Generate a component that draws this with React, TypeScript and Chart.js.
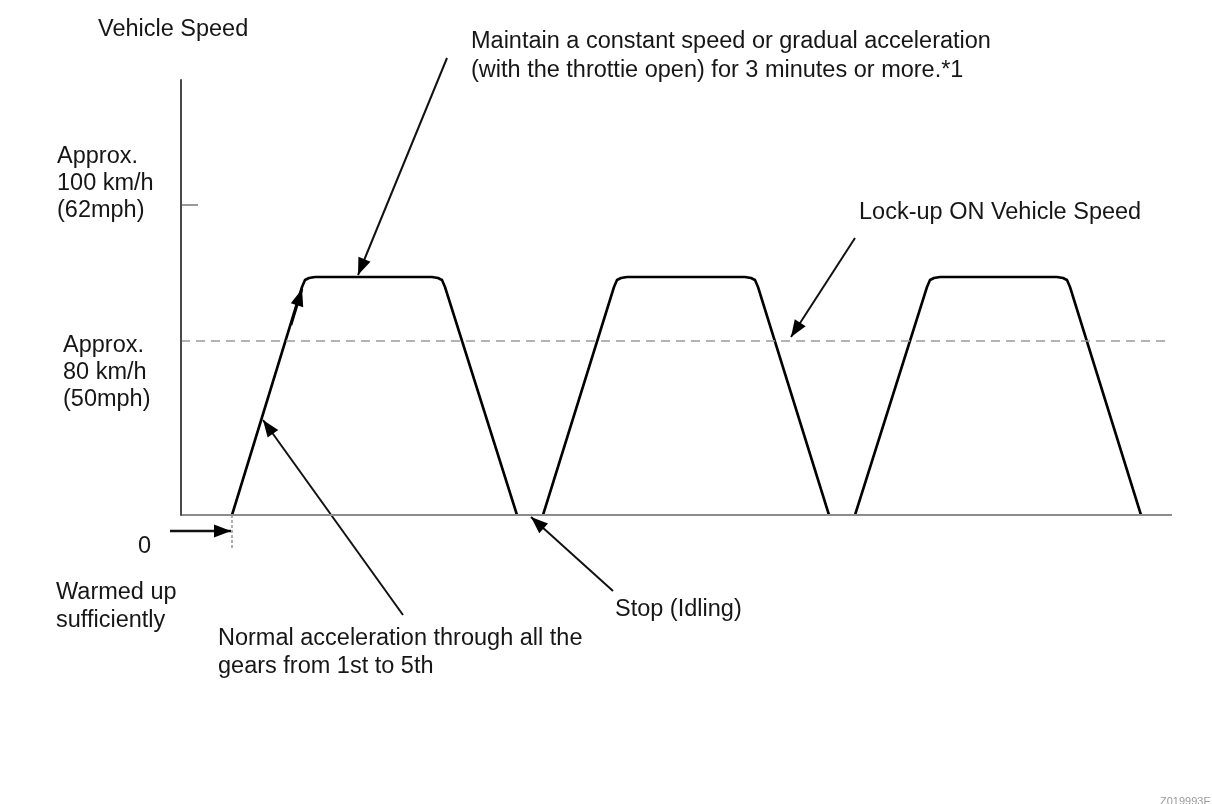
import React, { useEffect, useRef } from "react";
import { Chart, registerables } from "chart.js";

Chart.register(...registerables);

// Diagram units: x = time position, y = height above the zero-speed baseline
const trip1X = [232, 302, 305, 309, 315, 432, 438, 442, 445, 517];
const trip1Y = [0, 228, 235, 237, 238, 238, 237, 235, 228, 0];
const trip2X = [543, 614, 617, 621, 627, 745, 751, 755, 758, 829];
const trip2Y = [0, 228, 235, 237, 238, 238, 237, 235, 228, 0];
const trip3X = [855, 927, 930, 934, 940, 1057, 1063, 1067, 1070, 1141];
const trip3Y = [0, 228, 235, 237, 238, 238, 237, 235, 228, 0];

const axisYX = [181, 181];
const axisYY = [435, 0];
const axisXX = [181, 1172];
const axisXY = [0, 0];
const lockupX = [181, 1165];
const lockupY = [174, 174];
const tick100X = [181, 198];
const tick100Y = [310, 310];
const startMarkX = [232, 232];
const startMarkY = [0, -35];

const arrowMaintainX = [447, 358];
const arrowMaintainY = [457, 240];
const arrowLockupX = [855, 791];
const arrowLockupY = [277, 178];
const arrowNormalX = [403, 263];
const arrowNormalY = [-100, 95];
const arrowStopX = [613, 531];
const arrowStopY = [-76, -2];
const arrowRiseX = [291, 302];
const arrowRiseY = [190, 226];
const arrowZeroX = [170, 231];
const arrowZeroY = [-16, -16];

const labelTexts = [
  "Vehicle Speed",
  "Maintain a constant speed or gradual acceleration",
  "(with the throttie open) for 3 minutes or more.*1",
  "Approx.",
  "100 km/h",
  "(62mph)",
  "Lock-up ON Vehicle Speed",
  "Approx.",
  "80 km/h",
  "(50mph)",
  "0",
  "Warmed up",
  "sufficiently",
  "Stop (Idling)",
  "Normal acceleration through all the",
  "gears from 1st to 5th",
];
// pixel layout of the labels (left x, middle y)
const labelLayout: [number, number][] = [
  [98, 30],
  [471, 42],
  [471, 71],
  [57, 157],
  [57, 184],
  [57, 211],
  [859, 213],
  [63, 346],
  [63, 373],
  [63, 400],
  [138, 547],
  [56, 593],
  [56, 621],
  [615, 610],
  [218, 639],
  [218, 667],
];

const pts = (xs: number[], ys: number[]) => xs.map((x, i) => ({ x, y: ys[i] }));

const annotatePlugin = {
  id: "annotate",
  afterDatasetsDraw(chart: any) {
    const ctx = chart.ctx as CanvasRenderingContext2D;
    chart.data.datasets.forEach((ds: any, i: number) => {
      if (!ds.arrow) return;
      const meta = chart.getDatasetMeta(i);
      const els = meta.data;
      const a = els[els.length - 2];
      const b = els[els.length - 1];
      const ang = Math.atan2(b.y - a.y, b.x - a.x);
      const L = 17;
      const W = 6.5;
      const c = Math.cos(ang);
      const s = Math.sin(ang);
      ctx.save();
      ctx.fillStyle = "#000";
      ctx.beginPath();
      ctx.moveTo(b.x, b.y);
      ctx.lineTo(b.x - L * c - W * s, b.y - L * s + W * c);
      ctx.lineTo(b.x - L * c + W * s, b.y - L * s - W * c);
      ctx.closePath();
      ctx.fill();
      ctx.restore();
    });
    ctx.save();
    ctx.fillStyle = "#161616";
    ctx.font = '23.5px "Liberation Sans", Arial, sans-serif';
    ctx.textAlign = "left";
    ctx.textBaseline = "middle";
    labelTexts.forEach((t, i) => {
      const [x, y] = labelLayout[i];
      ctx.fillText(t, x, y);
    });
    ctx.font = '11px "Liberation Sans", Arial, sans-serif';
    ctx.fillStyle = "#9a9a9a";
    ctx.textBaseline = "top";
    ctx.fillText("Z019993E", 1160, 796);
    ctx.restore();
  },
};

export default function App() {
  const ref = useRef<HTMLCanvasElement | null>(null);
  useEffect(() => {
    if (!ref.current) return;
    const line = (xs: number[], ys: number[], color: string, width: number, extra: any = {}) => ({
      data: pts(xs, ys),
      borderColor: color,
      backgroundColor: color,
      borderWidth: width,
      pointRadius: 0,
      fill: false,
      tension: 0,
      borderCapStyle: "butt",
      borderJoinStyle: "round",
      ...extra,
    });
    const chart = new Chart(ref.current, {
      type: "line",
      data: {
        datasets: [
          line(axisYX, axisYY, "#4a4a4a", 2),
          line(axisXX, axisXY, "#8c8c8c", 2.2),
          line(tick100X, tick100Y, "#777", 1.5),
          line(lockupX, lockupY, "#9a9a9a", 1.5, { borderDash: [9, 6] }),
          line(startMarkX, startMarkY, "#9a9a9a", 1.6, { borderDash: [3, 2] }),
          line(trip1X, trip1Y, "#000", 2.6),
          line(trip2X, trip2Y, "#000", 2.6),
          line(trip3X, trip3Y, "#000", 2.6),
          line(arrowMaintainX, arrowMaintainY, "#111", 2, { arrow: true }),
          line(arrowLockupX, arrowLockupY, "#111", 2, { arrow: true }),
          line(arrowNormalX, arrowNormalY, "#111", 2, { arrow: true }),
          line(arrowStopX, arrowStopY, "#111", 2, { arrow: true }),
          line(arrowRiseX, arrowRiseY, "#000", 2.6, { arrow: true }),
          line(arrowZeroX, arrowZeroY, "#111", 2.4, { arrow: true }),
        ] as any,
      },
      options: {
        animation: false,
        responsive: false,
        maintainAspectRatio: false,
        devicePixelRatio: 1,
        layout: { padding: 0 },
        events: [],
        plugins: { legend: { display: false }, tooltip: { enabled: false } },
        scales: {
          x: { type: "linear", display: false, min: 0, max: 1212 },
          y: { type: "linear", display: false, min: -289, max: 515 },
        },
      },
      plugins: [annotatePlugin],
    });
    return () => chart.destroy();
  }, []);
  return (
    <div style={{ position: "absolute", left: 0, top: 0, width: 1212, height: 804, background: "#fff" }}>
      <canvas ref={ref} width={1212} height={804} style={{ display: "block", width: 1212, height: 804 }} />
    </div>
  );
}
